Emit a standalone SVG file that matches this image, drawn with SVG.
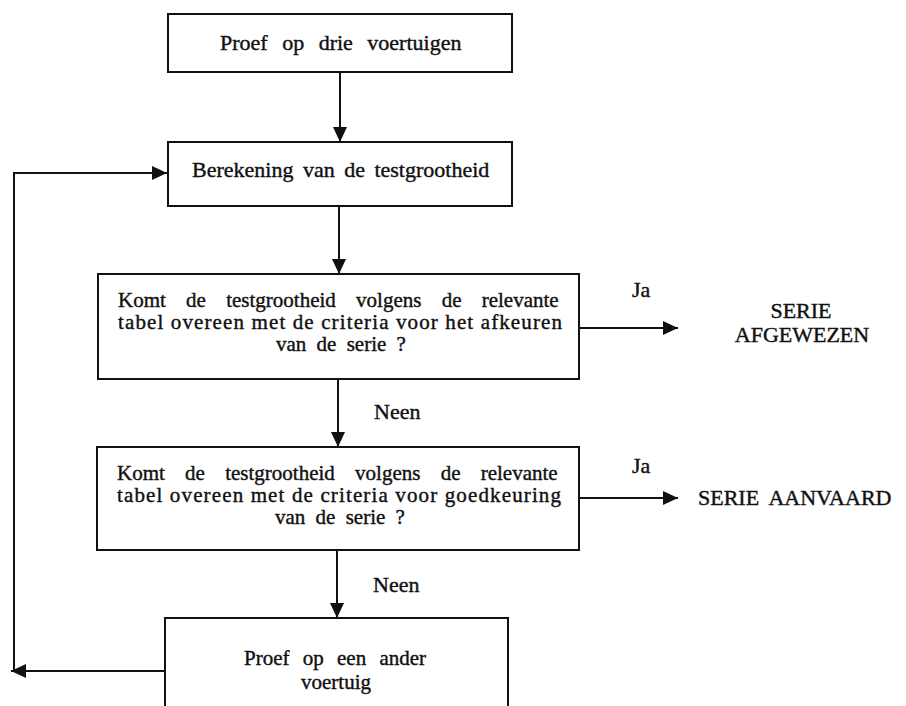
<svg xmlns="http://www.w3.org/2000/svg" width="906" height="706" viewBox="0 0 906 706">
<defs>
<style>
.box{fill:#fff;stroke:#111;stroke-width:2}
.t{font-family:"Liberation Serif","Times New Roman",serif;fill:#111;stroke:#111;stroke-width:0.4}
.s21{font-size:21px}
.s22{font-size:22px}
.c{text-anchor:middle}
.conn{fill:none;stroke:#111;stroke-width:2}
</style>
<marker id="ah" viewBox="0 0 15 14" refX="15" refY="7" markerWidth="15" markerHeight="14" markerUnits="userSpaceOnUse" orient="auto">
<path d="M0,0 L15,7 L0,14 Z" fill="#111"/>
</marker>
</defs>
<rect width="906" height="706" fill="#fff"/>
<g id="connectors">
<path class="conn" d="M340,72 V142" marker-end="url(#ah)"/>
<path class="conn" d="M339,206 V274" marker-end="url(#ah)"/>
<path class="conn" d="M338,379 V447" marker-end="url(#ah)"/>
<path class="conn" d="M337,550 V618" marker-end="url(#ah)"/>
<path class="conn" d="M579,328 H678" marker-end="url(#ah)"/>
<path class="conn" d="M579,498 H678" marker-end="url(#ah)"/>
<path class="conn" d="M165,671 H11" marker-end="url(#ah)"/>
<path class="conn" d="M14,672 V173 H167" marker-end="url(#ah)"/>
<text class="t s22" x="374" y="419">Neen</text>
<text class="t s22" x="373" y="592">Neen</text>
<text class="t s22" x="632" y="297">Ja</text>
<text class="t s22" x="632" y="473">Ja</text>
</g>
<g id="n1">
<rect class="box" x="168" y="14" width="344" height="58"/>
<text class="t s22" x="220" y="50" word-spacing="9">Proef op drie voertuigen</text>
</g>
<g id="n2">
<rect class="box" x="168" y="142" width="344" height="64"/>
<text class="t s22" x="192" y="177" word-spacing="4">Berekening van de testgrootheid</text>
</g>
<g id="n3">
<rect class="box" x="98" y="274" width="481" height="105"/>
<text class="t s21" x="118" y="307" word-spacing="15">Komt de testgrootheid volgens de relevante</text>
<text class="t s21" x="118" y="329" textLength="444" lengthAdjust="spacing">tabel overeen met de criteria voor het afkeuren</text>
<text class="t s21" x="276" y="351" word-spacing="5">van de serie ?</text>
</g>
<g id="n4">
<rect class="box" x="97" y="447" width="482" height="103"/>
<text class="t s21" x="117" y="480" word-spacing="15">Komt de testgrootheid volgens de relevante</text>
<text class="t s21" x="117" y="502" textLength="444" lengthAdjust="spacing">tabel overeen met de criteria voor goedkeuring</text>
<text class="t s21" x="275" y="524" word-spacing="5">van de serie ?</text>
</g>
<g id="n5">
<rect class="box" x="165" y="618" width="343" height="110"/>
<text class="t s21" x="244" y="665" word-spacing="8">Proef op een ander</text>
<text class="t s21 c" x="336" y="689">voertuig</text>
</g>
<g id="n6">
<text class="t s22 c" x="801" y="318">SERIE</text>
<text class="t s22 c" x="802" y="342">AFGEWEZEN</text>
</g>
<g id="n7">
<text class="t s22" x="698" y="505" word-spacing="5">SERIE AANVAARD</text>
</g>
</svg>
